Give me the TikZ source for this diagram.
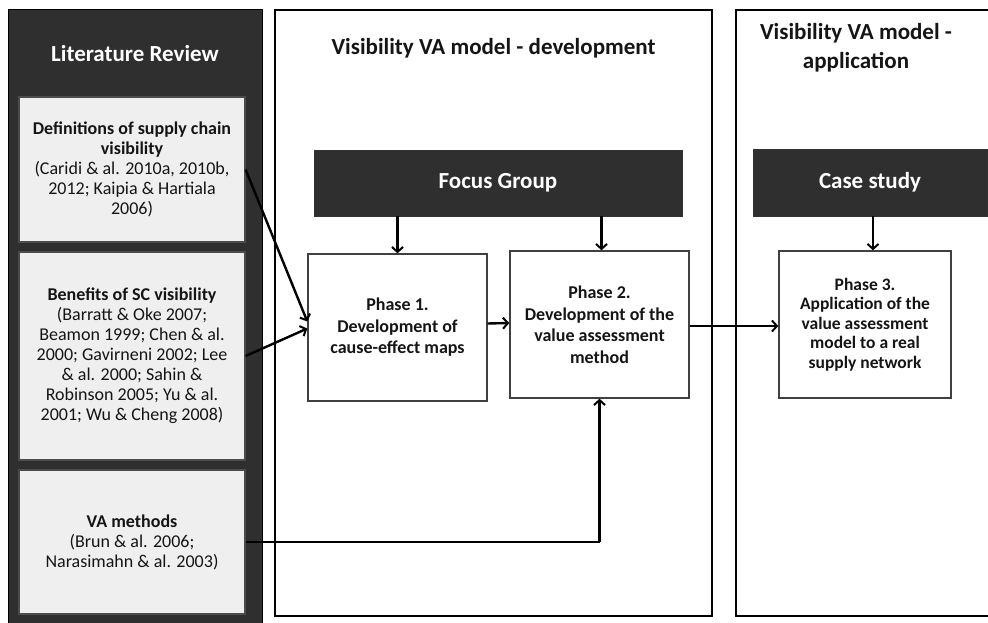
\documentclass[tikz,border=0pt]{standalone}
\usepackage{fontspec}
\setmainfont{Carlito}
\usetikzlibrary{arrows.meta,calc}
\definecolor{panelDark}{HTML}{2F2F2F}
\definecolor{boxLight}{HTML}{EFEFEF}
\definecolor{inkDark}{HTML}{151515}
\begin{document}
\begin{tikzpicture}[x=1pt,y=-1pt,
  frame/.style={draw=black,line width=1.8pt,fill=white},
  litbox/.style={draw=black!70,line width=1.2pt,fill=boxLight,inner sep=0pt,
    align=center,text=inkDark,font=\fontsize{18}{20}\selectfont},
  darkbox/.style={draw=black!80,line width=0.8pt,fill=panelDark,inner sep=0pt,
    text=white,font=\fontsize{23}{27}\bfseries\selectfont},
  phasebox/.style={draw=black!75,line width=1.4pt,fill=white,inner sep=0pt,
    align=center,text=inkDark,font=\fontsize{18}{21.5}\bfseries\selectfont},
  title/.style={align=center,text=inkDark,font=\fontsize{23}{29}\bfseries\selectfont},
  flow/.style={line width=2.4pt,-{Straight Barb[length=5pt,width=11pt,line width=2pt]}},
  link/.style={line width=2.4pt}
]
\useasboundingbox (0,0) rectangle (988,623);

% column panels
\path[fill=panelDark,draw=black] (8,9) rectangle (262,630);
\path[frame] (275,10) rectangle (712,616);
\path[frame] (736,10) rectangle (1000,616);

% panel headings
\node[text=white,font=\fontsize{23}{27}\bfseries\selectfont] (litTitle) at (135,54) {Literature Review};
\node[title] (devTitle) at (493.5,48) {Visibility VA model - development};
\node[title] (appTitle) at (856,48) {Visibility VA model -\\application};

% literature boxes
\node[litbox,minimum width=226pt,minimum height=145pt] (defs) at (132,169.5)
  {\textbf{Definitions of supply chain}\\\textbf{visibility}\\(Caridi \& al. 2010a, 2010b,\\2012; Kaipia \& Hartiala\\2006)};
\node[litbox,minimum width=226pt,minimum height=208pt] (bens) at (132,356)
  {\textbf{Benefits of SC visibility}\\(Barratt \& Oke 2007;\\Beamon 1999; Chen \& al.\\2000; Gavirneni 2002; Lee\\\& al. 2000; Sahin \&\\Robinson 2005; Yu \& al.\\2001; Wu \& Cheng 2008)};
\node[litbox,minimum width=226pt,minimum height=144pt] (vam) at (132,542)
  {\textbf{VA methods}\\(Brun \& al. 2006;\\Narasimahn \& al. 2003)};

% sources of input
\node[darkbox,minimum width=368pt,minimum height=66pt] (focus) at (498,183) {Focus Group};
\node[darkbox,minimum width=234pt,minimum height=67pt] (case) at (870,182.5) {Case study};

% phases
\node[phasebox,minimum width=179pt,minimum height=147pt] (p1) at (397.5,327.5)
  {Phase 1.\\Development of\\cause-effect maps};
\node[phasebox,minimum width=179pt,minimum height=147pt] (p2) at (599.5,324.5)
  {Phase 2.\\Development of the\\value assessment\\method};
\node[phasebox,minimum width=172pt,minimum height=147pt,font=\fontsize{17.5}{19.5}\bfseries\selectfont] (p3) at (865,324.5)
  {Phase 3.\\Application of the\\value assessment\\model to a real\\supply network};

% connectors
\draw[flow] (focus.south -| p1.north) -- (p1.north);
\draw[flow] ($(focus.south -| p2.north)+(2,0)$) -- ($(p2.north)+(2,0)$);
\draw[flow] ($(case.south -| p3.north)+(8,0)$) -- ($(p3.north)+(8,0)$);
\draw[flow] (defs.east) -- ($(p1.west)+(0,-6)$);
\draw[flow] (bens.east) -- ($(p1.west)+(0,1)$);
\draw[flow] ($(p1.east)+(0,-4)$) -- ($(p2.west)+(0,-1.5)$);
\draw[flow] ($(p2.east)+(0,1.5)$) -- ($(p3.west)+(0,1.5)$);
\coordinate (vaTurn) at ($(vam.east -| p2.south)$);
\draw[link] (vam.east) -- (vaTurn);
\draw[flow] (vaTurn) -- (p2.south);
\end{tikzpicture}
\end{document}
